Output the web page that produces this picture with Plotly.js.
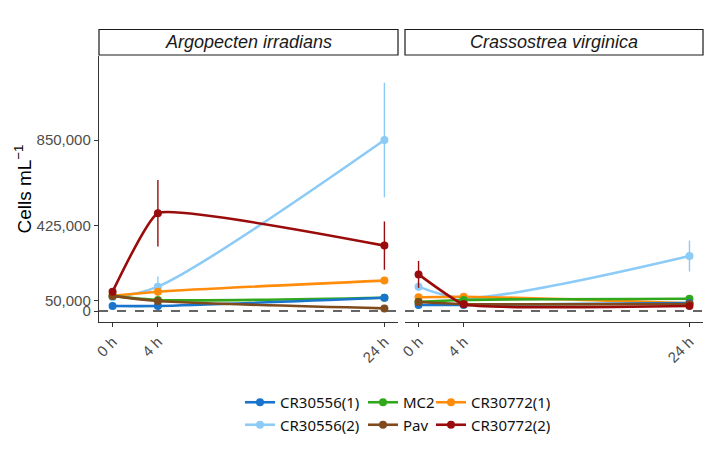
<!DOCTYPE html>
<html>
<head>
<meta charset="utf-8">
<script src="https://cdn.plot.ly/plotly-3.0.1.min.js"></script>
<style>
  html, body { margin: 0; padding: 0; background: #ffffff; }
  #chart { width: 712px; height: 462px; }
</style>
</head>
<body>
<div id="chart"></div>
<script>
// Sampling times (hours) and their tick labels
const hours = [0, 4, 24];
const hourLabels = ['0 h', '4 h', '24 h'];
const yTickVals = [0, 50000, 425000, 850000];
const yTickLabels = ['0', '50,000', '425,000', '850,000'];

const panelNames = ['Argopecten irradians', 'Crassostrea virginica'];
const strainNames = ['CR30556(1)', 'CR30556(2)', 'MC2', 'Pav', 'CR30772(1)', 'CR30772(2)'];

// Mean cell densities (cells per mL) — Argopecten irradians
const argoCR30556_1 = [25000, 25000, 66000];
const argoCR30556_2 = [68000, 121000, 850000];
const argoMC2       = [75000, 55000, 66000];
const argoPav       = [75000, 50000, 13000];
const argoCR30772_1 = [75000, 96000, 151000];
const argoCR30772_2 = [96000, 486000, 325000];

// Standard errors — Argopecten irradians
const argoErrCR30556_1 = [4000, 4000, 6000];
const argoErrCR30556_2 = [10000, 50000, 285000];
const argoErrMC2       = [5000, 4000, 5000];
const argoErrPav       = [5000, 4000, 3000];
const argoErrCR30772_1 = [5000, 6000, 10000];
const argoErrCR30772_2 = [15000, 165000, 120000];

// Mean cell densities (cells per mL) — Crassostrea virginica
const crasCR30556_1 = [30000, 30000, 40000];
const crasCR30556_2 = [121000, 65000, 273000];
const crasMC2       = [46000, 55000, 61000];
const crasPav       = [45000, 35000, 35000];
const crasCR30772_1 = [68000, 71000, 38000];
const crasCR30772_2 = [182000, 33000, 25000];

// Standard errors — Crassostrea virginica
const crasErrCR30556_1 = [4000, 3000, 4000];
const crasErrCR30556_2 = [20000, 5000, 77000];
const crasErrMC2       = [4000, 4000, 5000];
const crasErrPav       = [3000, 3000, 3000];
const crasErrCR30772_1 = [5000, 6000, 5000];
const crasErrCR30772_2 = [67000, 4000, 4000];

const strainColors = ['#1874CD', '#8DCBF7', '#31A81B', '#7F4A1C', '#FF8C0A', '#9A0C0C'];
const legendSlots = ['legend', 'legend', 'legend2', 'legend2', 'legend3', 'legend3'];

const panelMeans = [
  [argoCR30556_1, argoCR30556_2, argoMC2, argoPav, argoCR30772_1, argoCR30772_2],
  [crasCR30556_1, crasCR30556_2, crasMC2, crasPav, crasCR30772_1, crasCR30772_2]
];
const panelErrors = [
  [argoErrCR30556_1, argoErrCR30556_2, argoErrMC2, argoErrPav, argoErrCR30772_1, argoErrCR30772_2],
  [crasErrCR30556_1, crasErrCR30556_2, crasErrMC2, crasErrPav, crasErrCR30772_1, crasErrCR30772_2]
];

// Spline tension per strain: steep series get less smoothing to avoid overshoot
const strainSmoothing = [0.8, 0.9, 0.8, 0.8, 0.8, 0.35];

// Draw order: lighter/background series first
const drawOrder = [1, 4, 2, 0, 3, 5];

const traces = [];
panelNames.forEach((panel, p) => {
  drawOrder.forEach((s) => {
    traces.push({
      type: 'scatter',
      mode: 'lines+markers',
      name: strainNames[s],
      x: hours,
      y: panelMeans[p][s],
      xaxis: p === 0 ? 'x' : 'x2',
      yaxis: p === 0 ? 'y' : 'y2',
      legend: legendSlots[s],
      legendrank: s,
      showlegend: p === 0,
      line: { color: strainColors[s], width: 2.6, shape: 'spline', smoothing: strainSmoothing[s] },
      marker: { color: strainColors[s], size: 8 },
      error_y: {
        type: 'data', array: panelErrors[p][s], visible: true,
        color: strainColors[s], thickness: 1.4, width: 0
      },
      hoverinfo: 'skip'
    });
  });
});

const xRange = [-1.2, 25.2];
const yRange = [-54700, 1267600];
const tickFont = { family: 'Liberation Sans, Arial, sans-serif', size: 15, color: '#4D4D4D' };

function xAxis(domain) {
  return {
    domain: domain, range: xRange, tickvals: hours, ticktext: hourLabels,
    tickangle: -45, ticks: 'outside', ticklen: 4, tickwidth: 1, tickcolor: '#333333',
    showline: true, linecolor: '#333333', linewidth: 1.2, showgrid: false,
    zeroline: false, tickfont: tickFont, fixedrange: true
  };
}

const stripY0 = 1 - 55 / 462, stripY1 = 1 - 29.5 / 462;
const panelX = [[99 / 712, 398 / 712], [405 / 712, 703 / 712]];

const shapes = [];
const annotations = [];
panelX.forEach((dom, p) => {
  shapes.push({
    type: 'rect', xref: 'paper', yref: 'paper',
    x0: dom[0], x1: dom[1], y0: stripY0, y1: stripY1,
    line: { color: '#1A1A1A', width: 1.2 }, fillcolor: '#FFFFFF'
  });
  annotations.push({
    xref: 'paper', yref: 'paper', x: (dom[0] + dom[1]) / 2, y: (stripY0 + stripY1) / 2,
    text: '<i>' + panelNames[p] + '</i>', showarrow: false,
    font: { family: 'Liberation Sans, Arial, sans-serif', size: 18, color: '#1A1A1A' },
    xanchor: 'center', yanchor: 'middle'
  });
  shapes.push({
    type: 'line', xref: p === 0 ? 'x domain' : 'x2 domain', yref: p === 0 ? 'y' : 'y2',
    x0: 0, x1: 1, y0: 0, y1: 0, layer: 'below',
    line: { color: '#333333', width: 1.5, dash: 'dash' }
  });
});

const legendBase = {
  orientation: 'v', yanchor: 'top', xanchor: 'left', y: 1 - 386 / 462,
  bgcolor: 'rgba(0,0,0,0)', borderwidth: 0, itemwidth: 30, tracegroupgap: 0,
  font: { family: 'Noto Sans, Open Sans, sans-serif', size: 15, color: '#111111' }
};

const layout = {
  width: 712, height: 462,
  margin: { l: 0, r: 0, t: 0, b: 0 },
  paper_bgcolor: '#FFFFFF', plot_bgcolor: '#FFFFFF',
  showlegend: true,
  xaxis: xAxis(panelX[0]),
  xaxis2: Object.assign(xAxis(panelX[1]), { anchor: 'y2' }),
  yaxis: {
    domain: [1 - 322 / 462, 1 - 56 / 462], range: yRange,
    tickvals: yTickVals, ticktext: yTickLabels,
    ticks: 'outside', ticklen: 4, tickwidth: 1, tickcolor: '#333333',
    showline: true, linecolor: '#333333', linewidth: 1.2, showgrid: false, zeroline: false,
    tickfont: tickFont, fixedrange: true,
    title: { text: 'Cells mL<sup>−1</sup>', standoff: 0,
             font: { family: 'Liberation Sans, Arial, sans-serif', size: 19, color: '#000000' } }
  },
  yaxis2: {
    domain: [1 - 322 / 462, 1 - 56 / 462], range: yRange, anchor: 'x2',
    showline: false, showticklabels: false, ticks: '', showgrid: false, zeroline: false,
    fixedrange: true
  },
  legend: Object.assign({}, legendBase, { x: 240 / 712 }),
  legend2: Object.assign({}, legendBase, { x: 363 / 712 }),
  legend3: Object.assign({}, legendBase, { x: 431 / 712 }),
  shapes: shapes,
  annotations: annotations
};

Plotly.newPlot('chart', traces, layout, { displayModeBar: false, staticPlot: true });
</script>
</body>
</html>
